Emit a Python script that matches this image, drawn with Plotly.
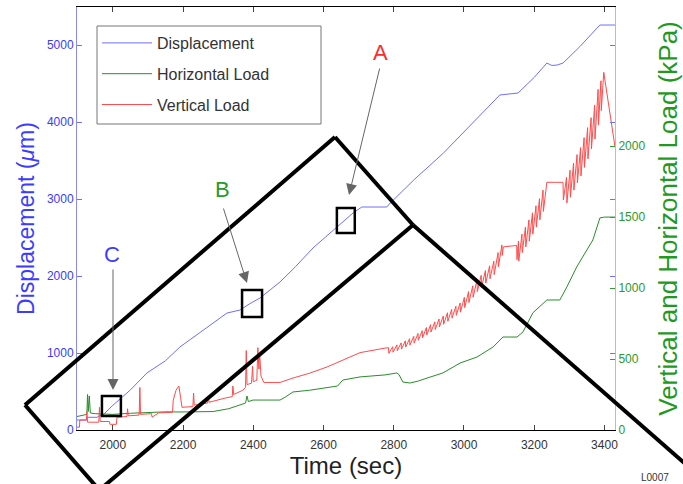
import plotly.graph_objects as go

# ---------------- data ----------------
disp_t = [1898, 1925, 1927, 1955, 1960, 1972, 1998, 2050, 2097, 2150, 2191, 2240, 2285,
          2325, 2345, 2362, 2390, 2419, 2476, 2520, 2570, 2630, 2684, 2709, 2780, 2790,
          2860, 2940, 3020, 3102, 3154, 3200, 3236, 3250, 3265, 3282, 3330, 3367, 3387, 3430]
disp_v = [130, 130, 165, 165, 180, 195, 312, 520, 740, 900, 1078, 1240, 1390,
          1519, 1540, 1558, 1640, 1714, 1922, 2120, 2364, 2600, 2818, 2896, 2896, 2948,
          3260, 3590, 3960, 4351, 4377, 4580, 4766, 4735, 4740, 4766, 4980, 5156, 5260, 5260]

vert_t = [1898, 1905, 1906, 1925, 1926, 1928, 1960, 1962, 1964, 1990, 1992, 2010, 2012,
          2040, 2042, 2044, 2075, 2077, 2079, 2110, 2112, 2130, 2170, 2172, 2180, 2188,
          2193, 2197, 2228, 2230, 2232, 2270, 2272, 2274, 2320, 2340, 2342, 2344, 2370,
          2378, 2380, 2382, 2395, 2398, 2400, 2410, 2413, 2416, 2418, 2422, 2430, 2476,
          2513, 2560, 2610, 2660, 2704, 2775,
          2785, 2786, 2797, 2798, 2809, 2810, 2821, 2822, 2833, 2834, 2845, 2846, 2857, 2858,
          2869, 2870, 2881, 2882, 2893, 2894, 2905, 2906, 2917, 2918, 2929, 2930, 2941, 2942,
          2953, 2954, 2965, 2966, 2977, 2978, 2989, 2990, 3001, 3002, 3013, 3014, 3025, 3026,
          3037, 3038, 3049, 3050, 3061, 3062, 3073, 3074, 3085, 3086, 3097, 3098, 3108, 3109,
          3112, 3150, 3151, 3155, 3156, 3165, 3166, 3175, 3176, 3185, 3186, 3195, 3196,
          3205, 3206, 3215, 3216, 3225, 3226, 3236, 3282, 3283, 3292, 3293, 3302, 3303,
          3312, 3313, 3322, 3323, 3332, 3333, 3342, 3343, 3352, 3353, 3362, 3363, 3372, 3373,
          3382, 3383, 3390, 3391, 3398, 3430]
vert_v = [20, 20, 70, 70, 130, 55, 55, 160, 60, 60, 40, 40, 90,
          95, 150, 100, 105, 300, 110, 115, 90, 120, 125, 210, 280, 310,
          230, 160, 165, 260, 175, 190, 240, 195, 225, 235, 310, 250, 280,
          300, 560, 320, 330, 450, 340, 350, 580, 430, 540, 380, 335, 335,
          366, 400, 444, 500, 545, 577,
          580, 540, 587, 548, 600, 558, 614, 570, 628, 584, 643, 598, 660, 612,
          680, 632, 700, 650, 722, 670, 742, 690, 762, 708, 782, 726, 803, 745,
          826, 766, 850, 788, 872, 808, 895, 830, 935, 862, 975, 898, 1016, 935,
          1057, 975, 1090, 1005, 1123, 1035, 1157, 1065, 1190, 1095, 1250, 1150, 1304, 1230,
          1290, 1300, 1200, 1330, 1190, 1380, 1250, 1430, 1290, 1480, 1330, 1530, 1380,
          1580, 1430, 1630, 1480, 1690, 1540, 1745, 1745, 1620, 1780, 1600, 1830, 1640,
          1880, 1690, 1940, 1740, 1990, 1790, 2060, 1850, 2130, 1910, 2200, 1980, 2290, 2050,
          2400, 2150, 2460, 2250, 2520, 1994]

horz_t = [1898, 1905, 1920, 1926, 1928, 1930, 1933, 1936, 1950, 2000, 2050, 2100, 2150,
          2191, 2240, 2285, 2330, 2362, 2378, 2382, 2386, 2399, 2440, 2476, 2490, 2513,
          2560, 2610, 2640, 2655, 2704, 2775, 2809, 2815, 2826, 2846, 2870, 2895, 2940,
          2989, 3037, 3083, 3111, 3151, 3168, 3196, 3236, 3273, 3293, 3321, 3367, 3387,
          3400, 3430]
horz_v = [95, 100, 110, 110, 250, 130, 240, 120, 115, 110, 118, 125, 128,
          127, 128, 130, 150, 176, 190, 240, 200, 211, 212, 211, 230, 268,
          280, 296, 310, 352, 374, 388, 402, 390, 338, 331, 345, 366, 402,
          472, 514, 585, 655, 655, 691, 825, 916, 916, 1008, 1149, 1339, 1494,
          1500, 1500]

x_ticks = [2000, 2200, 2400, 2600, 2800, 3000, 3200, 3400]
left_ticks = [0, 1000, 2000, 3000, 4000, 5000]
right_ticks = [0, 500, 1000, 1500, 2000]

# ---------------- layout helpers ----------------
W, H = 683, 484
PL, PT, PW, PH = 77, 7, 538, 423
FONT = "Liberation Sans"


def px(x):
    return (x - PL) / PW


def py(y):
    return (PT + PH - y) / PH


BLUE, GREEN, RED = "#6e6eff", "#2a8c2a", "#ff4b4b"

fig = go.Figure()
fig.add_trace(go.Scatter(x=disp_t, y=disp_v, mode="lines", name="Displacement",
                         line=dict(color=BLUE, width=1), legendgroup="a", yaxis="y"))
fig.add_trace(go.Scatter(x=horz_t, y=horz_v, mode="lines", name="Horizontal Load",
                         line=dict(color=GREEN, width=1), legendgroup="b", yaxis="y2"))
fig.add_trace(go.Scatter(x=vert_t, y=vert_v, mode="lines", name="Vertical Load",
                         line=dict(color=RED, width=1), legendgroup="c", yaxis="y2"))

shapes = []
# legend frame
shapes.append(dict(type="rect", xref="paper", yref="paper", x0=px(97), x1=px(321), y0=py(124), y1=py(26),
                   line=dict(color="#777", width=1), fillcolor="rgba(0,0,0,0)"))
# callout boxes around displacement points
for (x0, x1, y0, y1) in [(1969, 2023, 182, 442), (2368, 2425, 1468, 1818), (2638, 2689, 2558, 2883)]:
    shapes.append(dict(type="rect", xref="x", yref="y", x0=x0, x1=x1, y0=y0, y1=y1,
                       line=dict(color="black", width=2.5), fillcolor="rgba(0,0,0,0)"))
# thick magnifier band lines (pixel positions converted to paper)
for (a, b, c, d) in [(25, 405, 335, 137), (335, 137, 413, 225), (413, 225, 690, 468),
                     (25, 405, 101, 492), (413, 225, 97, 492)]:
    shapes.append(dict(type="line", xref="paper", yref="paper", x0=px(a), y0=py(b),
                       x1=px(c), y1=py(d), line=dict(color="black", width=4)))

ann = []
for (txt, col, lx, ly) in [("C", "#3c3cff", 112, 254), ("B", "#2a9a2a", 222, 190), ("A", "#ff2a2a", 380, 52)]:
    ann.append(dict(text=txt, xref="paper", yref="paper", x=px(lx), y=py(ly), showarrow=False,
                    font=dict(family=FONT, size=22, color=col), xanchor="center", yanchor="middle"))
for (hx, hy, ax, ay) in [(113, 390, 0, -122), (247, 283, -24, -76), (349, 195, 31, -128)]:
    ann.append(dict(text="", xref="paper", yref="paper", x=px(hx), y=py(hy), ax=ax, ay=ay,
                    showarrow=True, arrowhead=2, arrowsize=2.2, arrowwidth=1, arrowcolor="#666",
                    standoff=0, startstandoff=0))
ann.append(dict(text="L0007", xref="paper", yref="paper", x=px(655), y=py(477), showarrow=False,
                font=dict(family=FONT, size=10, color="#333"), xanchor="center", yanchor="middle"))

fig.update_layout(
    width=W, height=H,
    margin=dict(l=PL, r=W - PL - PW, t=PT, b=H - PT - PH, autoexpand=False),
    paper_bgcolor="white", plot_bgcolor="white",
    font=dict(family=FONT, size=12, color="#222"),
    showlegend=True,
    legend=dict(x=px(97), y=py(26), xanchor="left", yanchor="top",
                borderwidth=0, bgcolor="rgba(255,255,255,0)",
                font=dict(family=FONT, size=16, color="#333"),
                tracegroupgap=7, itemwidth=50),
    xaxis=dict(range=[1898, 3430], tickvals=x_ticks, ticks="inside", ticklen=5,
               tickcolor="#444", showline=True, linecolor="black", linewidth=1.2,
               mirror="ticks", showgrid=False, zeroline=False, ticklabelstandoff=3,
               tickfont=dict(family=FONT, size=12, color="#333"),
               title=dict(text="Time (sec)", font=dict(family=FONT, size=24, color="#222"), standoff=6)),
    yaxis=dict(range=[0, 5494], tickvals=left_ticks, ticks="inside", ticklen=5,
               tickcolor="#6e6eff", showline=True, linecolor="#8a8aff", linewidth=1,
               mirror="ticks", showgrid=False, zeroline=False,
               tickfont=dict(family=FONT, size=12, color="#3a3aff"),
               title=dict(text="Displacement (<i>\u03bc</i>m)", font=dict(family=FONT, size=23, color="#3c3cff"), standoff=5)),
    yaxis2=dict(range=[0, 2980], tickvals=right_ticks, ticks="inside", ticklen=5,
                tickcolor="#3a9a3a", showline=True, linecolor="#9fd09f", linewidth=1,
                overlaying="y", side="right", showgrid=False, zeroline=False,
                tickfont=dict(family=FONT, size=12, color="#2a9a2a"),
                title=dict(text="Vertical and Horizontal Load (kPa)", font=dict(family=FONT, size=26, color="#1f9a1f"), standoff=14)),
    shapes=shapes,
    annotations=ann,
)

fig.write_html("out.html", config={"displayModeBar": False},
               post_script="document.body.style.margin='0px';")
